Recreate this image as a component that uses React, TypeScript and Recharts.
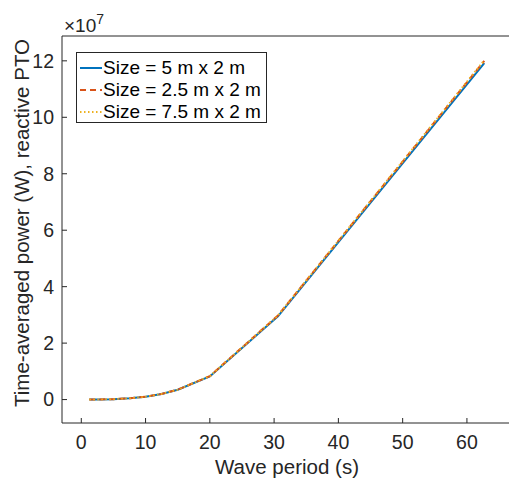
import React from 'react'
import { LineChart, Line, XAxis, YAxis } from 'recharts'

// wave period (s) and time-averaged power (x1e7 W)
const periods = [1.25, 2.5, 5, 7.5, 10, 12.5, 15, 20, 30.6, 62.7]
const size5x2 = [0, 0.003, 0.015, 0.045, 0.1, 0.2, 0.35, 0.82, 2.95, 11.92]
const size25x2 = [0, 0.003, 0.015, 0.045, 0.1, 0.2, 0.35, 0.83, 2.98, 12.0]
const size75x2 = [0, 0.003, 0.015, 0.045, 0.1, 0.2, 0.35, 0.83, 2.98, 12.02]

const xTicks = [0, 10, 20, 30, 40, 50, 60]
const yTicks = [0, 2, 4, 6, 8, 10, 12]

const series = [
  { key: 'a', name: 'Size = 5 m x 2 m', color: '#0072BD', dash: undefined as string | undefined },
  { key: 'b', name: 'Size = 2.5 m x 2 m', color: '#D95319', dash: '6 4' },
  { key: 'c', name: 'Size = 7.5 m x 2 m', color: '#EDB120', dash: '1.5 2.5' },
]

const data = periods.map((p, i) => ({ period: p, a: size5x2[i], b: size25x2[i], c: size75x2[i] }))

const FONT = '"Liberation Sans", Arial, Helvetica, sans-serif'
const AX = '#262626'

export default function App() {
  const tickStyle = { fontSize: 19.5, fill: AX, fontFamily: FONT }
  return (
    <div style={{ position: 'absolute', left: 0, top: 0, width: 509, height: 479, overflow: 'hidden', background: '#fff' }}>
      <LineChart width={520} height={479} data={data} margin={{ top: 0, right: 0, bottom: 0, left: 0 }}>
        <XAxis
          xAxisId="bottom"
          dataKey="period"
          type="number"
          domain={[-3, 66.7]}
          ticks={xTicks}
          height={56}
          stroke={AX}
          tick={tickStyle}
          tickSize={-5}
          tickMargin={17}
          label={{
            content: () => (
              <text x={287} y={466} textAnchor="middle" dominantBaseline="central" fontSize={20.5} fill={AX} fontFamily={FONT}>
                Wave period (s)
              </text>
            ),
          }}
        />
        <XAxis
          xAxisId="top"
          orientation="top"
          dataKey="period"
          type="number"
          domain={[-3, 66.7]}
          ticks={xTicks}
          height={36}
          stroke={AX}
          tick={false}
          tickSize={-5}
        />
        <YAxis
          yAxisId="left"
          type="number"
          domain={[-0.83, 12.88]}
          ticks={yTicks}
          width={62}
          stroke={AX}
          tick={tickStyle}
          tickSize={-5}
          tickMargin={13}
          label={{
            content: () => (
              <text x={21} y={223} transform="rotate(-90 21 223)" textAnchor="middle" dominantBaseline="central" fontSize={20.5} fill={AX} fontFamily={FONT}>
                Time-averaged power (W), reactive PTO
              </text>
            ),
          }}
        />
        <YAxis
          yAxisId="right"
          orientation="right"
          type="number"
          domain={[-0.83, 12.88]}
          ticks={yTicks}
          width={10}
          stroke={AX}
          tick={false}
          tickSize={-5}
        />
        {series.map((s) => (
          <Line
            key={s.key}
            xAxisId="bottom"
            yAxisId="left"
            type="linear"
            dataKey={s.key}
            name={s.name}
            stroke={s.color}
            strokeWidth={2}
            strokeDasharray={s.dash}
            dot={false}
            isAnimationActive={false}
          />
        ))}
      </LineChart>
      <svg width={509} height={479} style={{ position: 'absolute', left: 0, top: 0, pointerEvents: 'none' }}>
        <text x={64} y={32} fontSize={19} fill={AX} fontFamily={FONT}>
          ×10<tspan dy={-8} fontSize={14}>7</tspan>
        </text>
      </svg>
      <div
        style={{
          position: 'absolute',
          left: 76,
          top: 52,
          width: 191,
          height: 71,
          border: `1px solid ${AX}`,
          background: '#fff',
          fontFamily: FONT,
          fontSize: 19,
          color: '#000',
          boxSizing: 'border-box',
          paddingTop: 4,
        }}
      >
        {series.map((s) => (
          <div key={s.key} style={{ display: 'flex', alignItems: 'center', height: 22, whiteSpace: 'nowrap' }}>
            <svg width={26} height={22} style={{ flex: 'none' }}>
              <line x1={3} y1={11} x2={25} y2={11} stroke={s.color} strokeWidth={2} strokeDasharray={s.dash} />
            </svg>
            <span>{s.name}</span>
          </div>
        ))}
      </div>
    </div>
  )
}
